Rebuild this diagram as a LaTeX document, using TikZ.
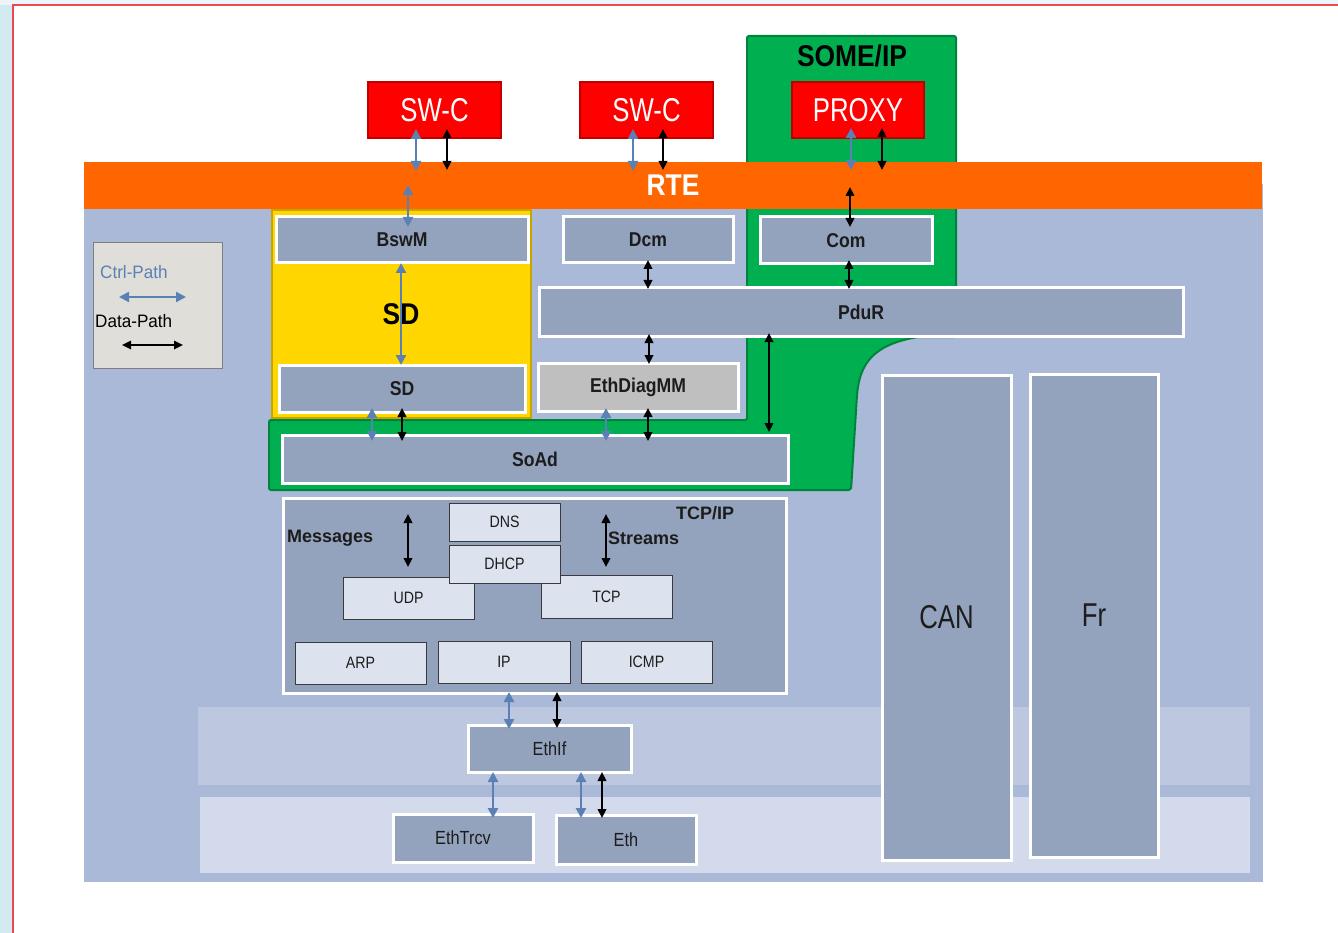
\documentclass[tikz,border=0pt]{standalone}
\usepackage{fontspec}
\setmainfont{Liberation Sans}
\newfontfamily\fnarrow[FakeStretch=0.78]{Liberation Sans}
\newfontfamily\fcond[FakeStretch=0.86]{Liberation Sans}
\newfontfamily\flegend[FakeStretch=0.95]{Liberation Sans}
\newfontfamily\fbold[FakeStretch=0.88]{Liberation Sans}
\usetikzlibrary{arrows.meta,calc}
\definecolor{panel}{HTML}{A9B9D7}
\definecolor{bandA}{HTML}{BDC8E0}
\definecolor{bandB}{HTML}{D3DAEB}
\definecolor{modblue}{HTML}{93A3BD}
\definecolor{iplight}{HTML}{DCE2EE}
\definecolor{ipedge}{HTML}{3A3A3A}
\definecolor{diaggray}{HTML}{BFBFBF}
\definecolor{legfill}{HTML}{E0DED8}
\definecolor{legedge}{HTML}{7F7F7F}
\definecolor{rteorange}{HTML}{FF6600}
\definecolor{swred}{HTML}{FF0000}
\definecolor{swredd}{HTML}{C00000}
\definecolor{someg}{HTML}{00B050}
\definecolor{somegd}{HTML}{00843D}
\definecolor{sdyel}{HTML}{FFD600}
\definecolor{sdyeld}{HTML}{C8A400}
\definecolor{ctrlblue}{HTML}{5B80B5}
\definecolor{txt}{HTML}{1C1C1C}
\definecolor{frameL}{HTML}{D3EAF1}
\definecolor{frameT}{HTML}{EEF4F8}
\definecolor{frameR}{HTML}{E84A4F}
\newcommand\rbox[7]{%
  \pgfmathsetmacro\rbCX{(#3+#5)/2}\pgfmathsetmacro\rbCY{(#4+#6)/2}%
  \pgfmathsetmacro\rbW{#5-#3}\pgfmathsetmacro\rbH{#6-#4}%
  \node[#2, minimum width=\rbW pt, minimum height=\rbH pt] (#1) at (\rbCX,\rbCY) {#7};}
\tikzset{
  base/.style={inner sep=0pt, outer sep=0pt, text=txt},
  mod/.style={base, draw=white, line width=3pt, fill=modblue, font=\fbold\bfseries\fontsize{20}{22}\selectfont},
  ipbox/.style={base, draw=ipedge, line width=1pt, fill=iplight, font=\fcond\fontsize{16.5}{18}\selectfont},
  redbox/.style={base, draw=swredd, line width=2pt, fill=swred, text=white, font=\fnarrow\fontsize{33}{36}\selectfont},
  tall/.style={base, draw=white, line width=3pt, fill=modblue, font=\fnarrow\fontsize{33}{36}\selectfont},
  lowmod/.style={base, draw=white, line width=3pt, fill=modblue, font=\fcond\fontsize{19}{21}\selectfont},
  ctrl/.style={draw=ctrlblue, line width=2.8pt, {Triangle[length=10pt,width=10pt]}-{Triangle[length=10pt,width=10pt]}},
  data/.style={draw=black, line width=2.3pt, {Triangle[length=9pt,width=8.5pt]}-{Triangle[length=9pt,width=8.5pt]}},
  lbl/.style={inner sep=0pt, text=txt, font=\fontsize{18}{20}\selectfont\bfseries}
}
\begin{document}
\begin{tikzpicture}[x=1pt,y=-1pt]
\useasboundingbox (0,0) rectangle (1338,933);
% frame
\fill[white] (0,0) rectangle (1338,933);
\fill[frameL] (0,0) rectangle (13,933);
\fill[frameT] (0,0) rectangle (1338,5);
\draw[frameR, line width=1.2pt] (13,933) -- (13,5) -- (1338,5);
% main panel and bands
\rbox{panel}{base, fill=panel}{84}{184}{1263}{882}{}
\rbox{bandA}{base, fill=bandA}{198}{707}{1250}{785}{}
\rbox{bandB}{base, fill=bandB}{200}{797}{1250}{873}{}
% SOME/IP green region
\path[fill=someg, draw=somegd, line width=2pt, rounded corners=2pt]
  (269,420) -- (747,420) -- (747,36) -- (956,36) -- (956,337) -- (918,337)
  .. controls (872,345) and (860,365) .. (857,395) -- (851,490) -- (269,490) -- cycle;
\node[inner sep=0pt, font=\fbold\bfseries\fontsize{30}{32}\selectfont, text=black] (someip) at (852,56) {SOME/IP};
% RTE
\rbox{rte}{base, fill=rteorange, text=white, font=\fbold\bfseries\fontsize{30}{32}\selectfont}{84}{162}{1262}{209}{RTE}
% SD yellow region
\rbox{sdreg}{base, fill=sdyel, draw=sdyeld, line width=2pt}{272}{210}{531}{418}{}
\node[inner sep=0pt, font=\fbold\bfseries\fontsize{30}{32}\selectfont, text=black] (sdbig) at (401,314) {SD};
% red boxes
\rbox{swc1}{redbox}{368}{82}{501}{138}{SW-C}
\rbox{swc2}{redbox}{580}{82}{713}{138}{SW-C}
\rbox{proxy}{redbox}{792}{82}{924}{138}{PROXY}
% modules
\rbox{bswm}{mod}{276}{217}{528}{263}{BswM}
\rbox{dcm}{mod}{563}{217}{733}{263}{Dcm}
\rbox{com}{mod}{760}{217}{932}{264}{Com}
\rbox{pdur}{mod}{539}{288}{1183}{336}{PduR}
\rbox{sdm}{mod}{279}{365}{525}{412}{SD}
\rbox{ediag}{mod, fill=diaggray}{538}{363}{738}{411}{EthDiagMM}
\rbox{soad}{mod}{282}{435}{788}{483}{SoAd}
\rbox{tcpip}{mod}{283}{498}{786}{693}{}
\rbox{can}{tall}{882}{375}{1011}{860}{CAN}
\rbox{fr}{tall}{1030}{374}{1158}{857}{Fr}
\rbox{ethif}{lowmod}{468}{725}{631}{772}{EthIf}
\rbox{ethtrcv}{lowmod}{393}{814}{533}{862}{EthTrcv}
\rbox{eth}{lowmod}{556}{815}{696}{864}{Eth}
% TCP/IP inner boxes
\rbox{udp}{ipbox}{343}{577}{474}{619}{UDP}
\rbox{tcp}{ipbox}{541}{575}{672}{618}{TCP}
\rbox{dns}{ipbox}{449}{503}{560}{541}{DNS}
\rbox{dhcp}{ipbox}{449}{545}{560}{583}{DHCP}
\rbox{arp}{ipbox}{295}{642}{426}{684}{ARP}
\rbox{ip}{ipbox}{438}{641}{570}{683}{IP}
\rbox{icmp}{ipbox}{581}{641}{712}{683}{ICMP}
\node[lbl, anchor=west] (msg) at (287,538) {Messages};
\node[lbl, anchor=west] (str) at (608,538) {Streams};
\node[lbl, anchor=west] (tcpiplbl) at (676,513) {TCP/IP};
% legend
\rbox{legend}{base, fill=legfill, draw=legedge, line width=1pt}{93}{243}{222}{368}{}
\node[inner sep=0pt, anchor=west, text=ctrlblue, font=\flegend\fontsize{18}{20}\selectfont] (lctrl) at (100,272) {Ctrl-Path};
\node[inner sep=0pt, anchor=west, text=black, font=\flegend\fontsize{18}{20}\selectfont] (ldata) at (95,321) {Data-Path};
\draw[ctrl, line width=2.3pt] ($(legend.west)+(26,-8.5)$) -- ($(legend.west)+(93,-8.5)$);
\draw[data, line width=1.7pt] ($(legend.west)+(29,39.5)$) -- ($(legend.west)+(90,39.5)$);
% connectors SW-C / PROXY <-> RTE
\draw[ctrl] ($(swc1.south)+(-18.5,-9)$) -- ($(rte.north)+(-257,9)$);
\draw[data] ($(swc1.south)+(12.5,-9)$) -- ($(rte.north)+(-226,8)$);
\draw[ctrl] ($(swc2.south)+(-13.5,-9)$) -- ($(rte.north)+(-40,9)$);
\draw[data] ($(swc2.south)+(16.5,-9)$) -- ($(rte.north)+(-10,8)$);
\draw[ctrl] ($(proxy.south)+(-7,-10)$) -- ($(rte.north)+(178,8)$);
\draw[data] ($(proxy.south)+(24,-10)$) -- ($(rte.north)+(209,8)$);
% RTE <-> modules
\draw[ctrl] ($(rte.north)+(-265,23)$) -- ($(bswm.north)+(6,10)$);
\draw[data] ($(rte.north)+(177,25)$) -- ($(com.north)+(4,10)$);
\draw[data] ($(com.south)+(3,-4)$) -- ($(pdur.north)+(-12,1)$);
\draw[data] ($(dcm.south)+(0,-3)$) -- ($(pdur.north)+(-213,1)$);
\draw[data] ($(pdur.south)+(-212,-2)$) -- ($(ediag.north)+(11,1)$);
\draw[data] ($(pdur.south)+(-92,-3)$) -- ($(soad.north)+(234,-3)$);
\draw[ctrl] ($(bswm.south)+(-1,0)$) -- ($(sdm.north)+(-1,0)$);
\draw[ctrl] ($(sdm.south)+(-30,-4)$) -- ($(soad.north)+(-163,6)$);
\draw[data] ($(sdm.south)+(0,-4)$) -- ($(soad.north)+(-133,6)$);
\draw[ctrl] ($(ediag.south)+(-32,-3)$) -- ($(soad.north)+(71,6)$);
\draw[data] ($(ediag.south)+(10,-3)$) -- ($(soad.north)+(113,6)$);
% TCP/IP inner arrows
\draw[data] ($(tcpip.north)+(-126.5,16)$) -- ($(tcpip.north)+(-126.5,69)$);
\draw[data] ($(tcpip.north)+(71.5,16)$) -- ($(tcpip.north)+(71.5,69)$);
% lower connectors
\draw[ctrl] ($(tcpip.south)+(-25.5,-1)$) -- ($(ethif.north)+(-40.5,4)$);
\draw[data] ($(tcpip.south)+(22.5,-1)$) -- ($(ethif.north)+(7.5,3)$);
\draw[ctrl] ($(ethif.south)+(-56.5,0)$) -- ($(ethtrcv.north)+(30,4)$);
\draw[ctrl] ($(ethif.south)+(31.5,0)$) -- ($(eth.north)+(-45,3)$);
\draw[data] ($(ethif.south)+(52.5,0)$) -- ($(eth.north)+(-24,3)$);
\end{tikzpicture}
\end{document}
